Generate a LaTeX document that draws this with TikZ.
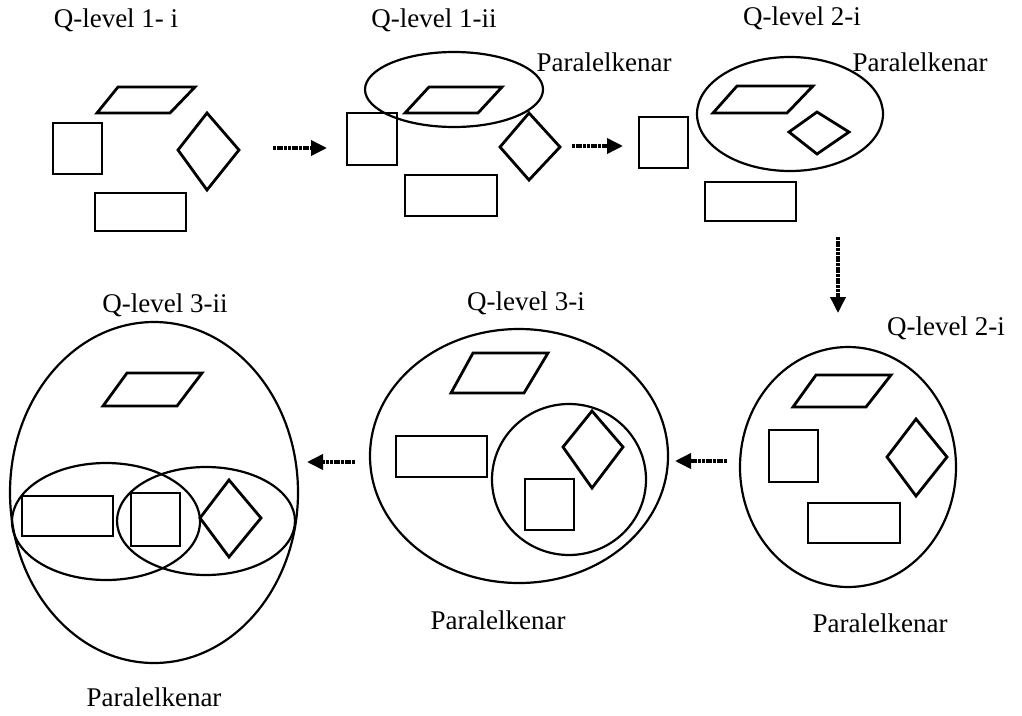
\documentclass[tikz,border=0pt]{standalone}
\usepackage{fontspec}
\setmainfont{Liberation Serif}
\usetikzlibrary{arrows.meta}
\begin{document}
\begin{tikzpicture}[x=1pt,y=-1pt,
  shp/.style={line width=2.8pt,line join=miter},
  ell/.style={line width=2.2pt},
  flow/.style={line width=3.6pt,dash pattern=on 3pt off 0.7pt,
    -{Triangle[length=16pt,width=15pt]}},
  lbl/.style={inner sep=0pt,font=\fontsize{27}{27}\selectfont}]
\useasboundingbox (0,0) rectangle (1022,715);
% ---------- panel 1: Q-level 1- i
\node[lbl] (t1) at (116,20) {Q-level 1- i};
\draw[shp] (118,87) -- (195,87) -- (170,113) -- (97,113) -- cycle;
\draw[shp] (53,123) rectangle (102,174);
\draw[shp] (207,113) -- (239,150) -- (207,190) -- (178,150) -- cycle;
\draw[shp] (95,193) rectangle (186,231);
\coordinate (a1s) at (273,148);
\coordinate (a1e) at (327,148);
\draw[flow] (a1s) -- (a1e);
% ---------- panel 2: Q-level 1-ii
\node[lbl] (t2) at (434,20) {Q-level 1-ii};
\node[lbl] (p2) at (604,62) {Paralelkenar};
\draw[ell] (454,89.5) ellipse [x radius=89,y radius=37.5];
\draw[shp] (429,87) -- (502,87) -- (478,113) -- (405,113) -- cycle;
\draw[shp] (347,113) rectangle (397,165);
\draw[shp] (405,175) rectangle (497,216);
\draw[shp] (529,113) -- (560,147) -- (529,180) -- (500,147) -- cycle;
\coordinate (a2s) at (572,146);
\coordinate (a2e) at (623,146);
\draw[flow] (a2s) -- (a2e);
% ---------- panel 3: Q-level 2-i
\node[lbl] (t3) at (802,18) {Q-level 2-i};
\node[lbl] (p3) at (920,62) {Paralelkenar};
\draw[ell] (790,114) ellipse [x radius=93,y radius=57];
\draw[shp] (737,86) -- (813,86) -- (787,113) -- (713,113) -- cycle;
\draw[shp] (817,112) -- (849,132) -- (817,154) -- (789,132) -- cycle;
\draw[shp] (639,117) rectangle (688,168);
\draw[shp] (705,182) rectangle (796,221);
\coordinate (a3s) at (838,237);
\coordinate (a3e) at (838,313);
\draw[flow] (a3s) -- (a3e);
% ---------- panel 4: Q-level 2-i (bottom right)
\node[lbl] (t4) at (946,328) {Q-level 2-i};
\node[lbl] (p4) at (880,623) {Paralelkenar};
\draw[ell] (848,467) ellipse [x radius=108,y radius=120];
\draw[shp] (816,375) -- (891,375) -- (866,407) -- (793,407) -- cycle;
\draw[shp] (769,430) rectangle (818,482);
\draw[shp] (916,419) -- (947,457) -- (916,496) -- (887,457) -- cycle;
\draw[shp] (808,503) rectangle (900,543);
\coordinate (a4s) at (727,461);
\coordinate (a4e) at (675,461);
\draw[flow] (a4s) -- (a4e);
% ---------- panel 5: Q-level 3-i
\node[lbl] (t5) at (526,303) {Q-level 3-i};
\node[lbl] (p5) at (498,620) {Paralelkenar};
\draw[ell] (519,456) ellipse [x radius=149,y radius=127];
\draw[ell] (569,479.5) ellipse [x radius=77,y radius=75.5];
\draw[shp] (473,353) -- (548,353) -- (524,393) -- (451,393) -- cycle;
\draw[shp] (396,436) rectangle (487,477);
\draw[shp] (592,411) -- (623,447) -- (592,488) -- (563,447) -- cycle;
\draw[shp] (525,479) rectangle (574,530);
\coordinate (a5s) at (355,462);
\coordinate (a5e) at (307,462);
\draw[flow] (a5s) -- (a5e);
% ---------- panel 6: Q-level 3-ii
\node[lbl] (t6) at (165,305) {Q-level 3-ii};
\node[lbl] (p6) at (154,697) {Paralelkenar};
\draw[ell] (154,492.5) ellipse [x radius=144,y radius=170.5];
\draw[ell] (106,521.5) ellipse [x radius=94,y radius=58.5];
\draw[ell] (206,521) ellipse [x radius=89,y radius=54];
\draw[shp] (127,373) -- (202,373) -- (177,406) -- (103,406) -- cycle;
\draw[shp] (22,496) rectangle (113,536);
\draw[shp] (131,493) rectangle (180,546);
\draw[shp] (229,480) -- (261,518) -- (229,557) -- (200,518) -- cycle;
\end{tikzpicture}
\end{document}
